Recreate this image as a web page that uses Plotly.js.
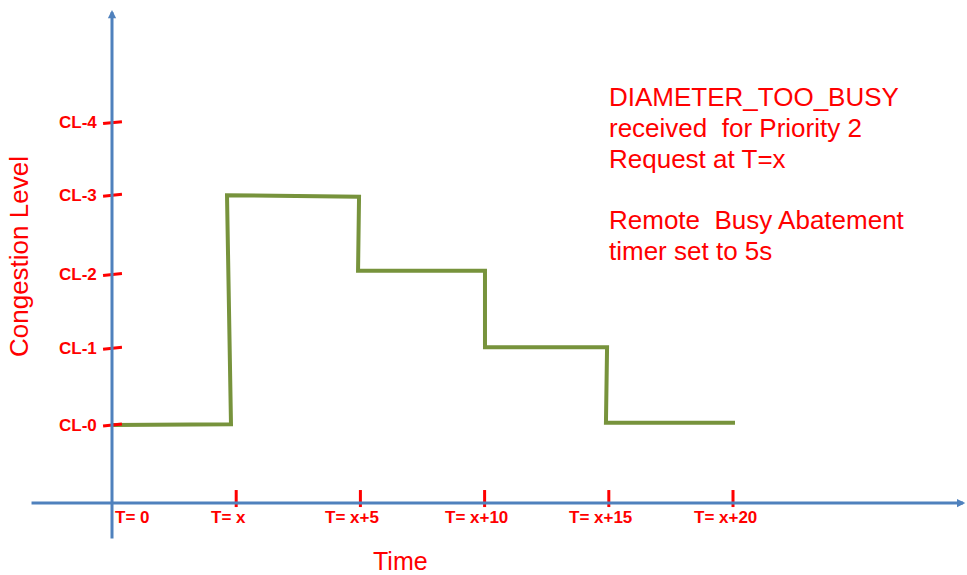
<!DOCTYPE html>
<html>
<head>
<meta charset="utf-8">
<script src="https://cdn.plot.ly/plotly-3.0.1.min.js"></script>
<style>html,body{margin:0;padding:0;background:#fff;}#chart{width:967px;height:575px;}</style>
</head>
<body>
<div id="chart"></div>
<script>
// ---- data ----
const timeTicks = [0, 1, 2, 3, 4, 5];
const timeLabels = ['T= 0', 'T= x', 'T= x+5', 'T= x+10', 'T= x+15', 'T= x+20'];
const levelTicks = [0, 1.015, 1.99, 3.04, 4.0];
const levelLabels = ['CL-0', 'CL-1', 'CL-2', 'CL-3', 'CL-4'];
// congestion level trace (hand-drawn step line)
const lineTime  = [0, 0.958, 0.926, 1.989, 1.981, 3.003, 3.003, 3.986, 3.977, 5.016];
const lineLevel = [0, 0.01, 3.04, 3.02, 2.04, 2.04, 1.03, 1.03, 0.03, 0.03];
const noteLines = ['DIAMETER_TOO_BUSY', 'received  for Priority 2', 'Request at T=x', '', 'Remote  Busy Abatement', 'timer set to 5s'];
const xTitle = 'Time';
const yTitle = 'Congestion Level';

// ---- styles ----
const RED = '#FF0000';
const BLUE = '#4F81BD';
const GREEN = '#77933C';
const FONT = 'Liberation Sans, Arial, sans-serif';

const xAxisLevel = -1.032; // where the time axis crosses the level axis
const W = 967, H = 575;

const shapes = [];
const annotations = [];

// axes with arrow heads
annotations.push({x: 0, y: 5.49, ax: 0, ay: -1.52, xref: 'x', yref: 'y', axref: 'x', ayref: 'y',
  text: '', showarrow: true, arrowhead: 2, arrowsize: 0.55, arrowwidth: 3, arrowcolor: BLUE});
annotations.push({x: 6.87, y: xAxisLevel, ax: -0.66, ay: xAxisLevel, xref: 'x', yref: 'y', axref: 'x', ayref: 'y',
  text: '', showarrow: true, arrowhead: 2, arrowsize: 0.55, arrowwidth: 3, arrowcolor: BLUE});

// level ticks & labels
levelTicks.forEach((v, i) => {
  shapes.push({type: 'line', xref: 'x', yref: 'y', x0: -0.072, x1: 0.08, y0: v - 0.013, y1: v + 0.013,
    line: {color: RED, width: 3}});
  annotations.push({x: 0, y: v, xref: 'x', yref: 'y', xanchor: 'right', yanchor: 'middle', xshift: -13,
    text: '<b>' + levelLabels[i] + '</b>', showarrow: false, font: {family: FONT, size: 17, color: RED}});
});

// time ticks & labels
timeTicks.forEach((t, i) => {
  if (i > 0) {
    shapes.push({type: 'line', xref: 'x', yref: 'y', x0: t, x1: t, y0: -0.86, y1: -1.085,
      line: {color: RED, width: 3}});
  }
  annotations.push({x: t, y: xAxisLevel, xref: 'x', yref: 'y', xanchor: i === 0 ? 'left' : 'center',
    xshift: i === 0 ? 1 : -8, yanchor: 'middle', yshift: -14,
    text: '<b>' + timeLabels[i] + '</b>', showarrow: false, font: {family: FONT, size: 17, color: RED}});
});

// axis titles
annotations.push({x: 400 / W, y: 1 - 561 / H, xref: 'paper', yref: 'paper', xanchor: 'center', yanchor: 'middle',
  text: xTitle, showarrow: false, font: {family: FONT, size: 25, color: RED}});
annotations.push({x: 19 / W, y: 1 - 257 / H, xref: 'paper', yref: 'paper', xanchor: 'center', yanchor: 'middle',
  text: yTitle, textangle: -90, showarrow: false, font: {family: FONT, size: 26, color: RED}});

// note text
noteLines.forEach((line, i) => {
  if (!line) return;
  annotations.push({x: 607 / W, y: 1 - (97 + 30.8 * i) / H, xref: 'paper', yref: 'paper', xanchor: 'left', yanchor: 'middle',
    text: line, showarrow: false, font: {family: FONT, size: 26, color: RED}});
});

const traces = [{
  x: lineTime, y: lineLevel, type: 'scatter', mode: 'lines',
  line: {color: GREEN, width: 4}, cliponaxis: false, hoverinfo: 'skip'
}];

const layout = {
  width: W, height: H,
  margin: {l: 0, r: 0, t: 0, b: 0, pad: 0},
  paper_bgcolor: '#FFFFFF', plot_bgcolor: '#FFFFFF',
  showlegend: false,
  xaxis: {range: [-0.9018, 6.884], visible: false, fixedrange: true},
  yaxis: {range: [-1.984, 5.622], visible: false, fixedrange: true},
  shapes: shapes,
  annotations: annotations
};

Plotly.newPlot('chart', traces, layout, {displayModeBar: false, staticPlot: true});
</script>
</body>
</html>
